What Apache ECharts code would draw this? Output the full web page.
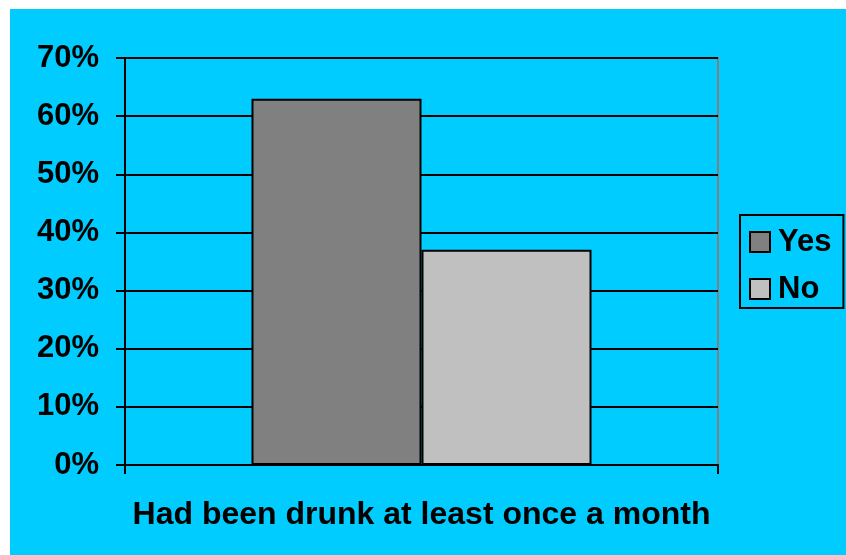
<!DOCTYPE html>
<html>
<head>
<meta charset="utf-8">
<script src="https://cdn.jsdelivr.net/npm/echarts@6/dist/echarts.min.js"></script>
<style>html,body{margin:0;padding:0;background:#fff;}#c{width:846px;height:555px;}</style>
</head>
<body>
<div id="c"></div>
<script>
var categories = ['Had been drunk at least once a month'];
var seriesNames = ['Yes', 'No'];
var yesValues = [63];
var noValues = [37];
var yTicks = [0, 10, 20, 30, 40, 50, 60, 70];

var FONT = '"Liberation Sans", Arial, sans-serif';
var chart = echarts.init(document.getElementById('c'), null, {renderer: 'canvas'});
chart.setOption({
  backgroundColor: '#ffffff',
  animation: false,
  graphic: [{
    type: 'rect', z: -10, silent: true,
    shape: {x: 10, y: 9, width: 836, height: 546},
    style: {fill: '#00CCFF'}
  }],
  grid: {
    left: 125, top: 58, width: 593, height: 407,
    show: true, borderColor: '#808080', borderWidth: 2, backgroundColor: 'transparent'
  },
  legend: {
    data: seriesNames,
    orient: 'vertical',
    left: 740, top: 215,
    padding: [9, 12, 1, 9],
    borderColor: '#000', borderWidth: 2,
    itemWidth: 20, itemHeight: 20, itemGap: 11,
    icon: 'rect',
    textStyle: {fontFamily: FONT, fontWeight: 'bold', fontSize: 31, color: '#000', lineHeight: 36, padding: [0, 0, 0, 3]}
  },
  xAxis: {
    type: 'category',
    data: categories,
    name: categories[0],
    nameLocation: 'middle',
    nameGap: 34,
    nameTextStyle: {fontFamily: FONT, fontWeight: 'bold', fontSize: 32, color: '#000'},
    axisLabel: {show: false},
    axisLine: {lineStyle: {color: '#000', width: 2}},
    axisTick: {show: true, length: 9, lineStyle: {color: '#000', width: 2}}
  },
  yAxis: {
    type: 'value',
    min: yTicks[0], max: yTicks[yTicks.length - 1], interval: 10,
    axisLine: {show: true, lineStyle: {color: '#000', width: 2}},
    axisTick: {show: true, length: 9, lineStyle: {color: '#000', width: 2}},
    axisLabel: {formatter: '{value}%', fontFamily: FONT, fontWeight: 'bold', fontSize: 31, color: '#000', margin: 26},
    splitLine: {show: true, lineStyle: {color: '#000', width: 2}}
  },
  series: [{
    name: seriesNames[0], type: 'bar', data: yesValues,
    barWidth: 170, barGap: '0%',
    itemStyle: {color: '#808080', borderColor: '#000', borderWidth: 2}
  }, {
    name: seriesNames[1], type: 'bar', data: noValues,
    barWidth: 170, barGap: '0%',
    itemStyle: {color: '#C0C0C0', borderColor: '#000', borderWidth: 2}
  }]
});
</script>
</body>
</html>
